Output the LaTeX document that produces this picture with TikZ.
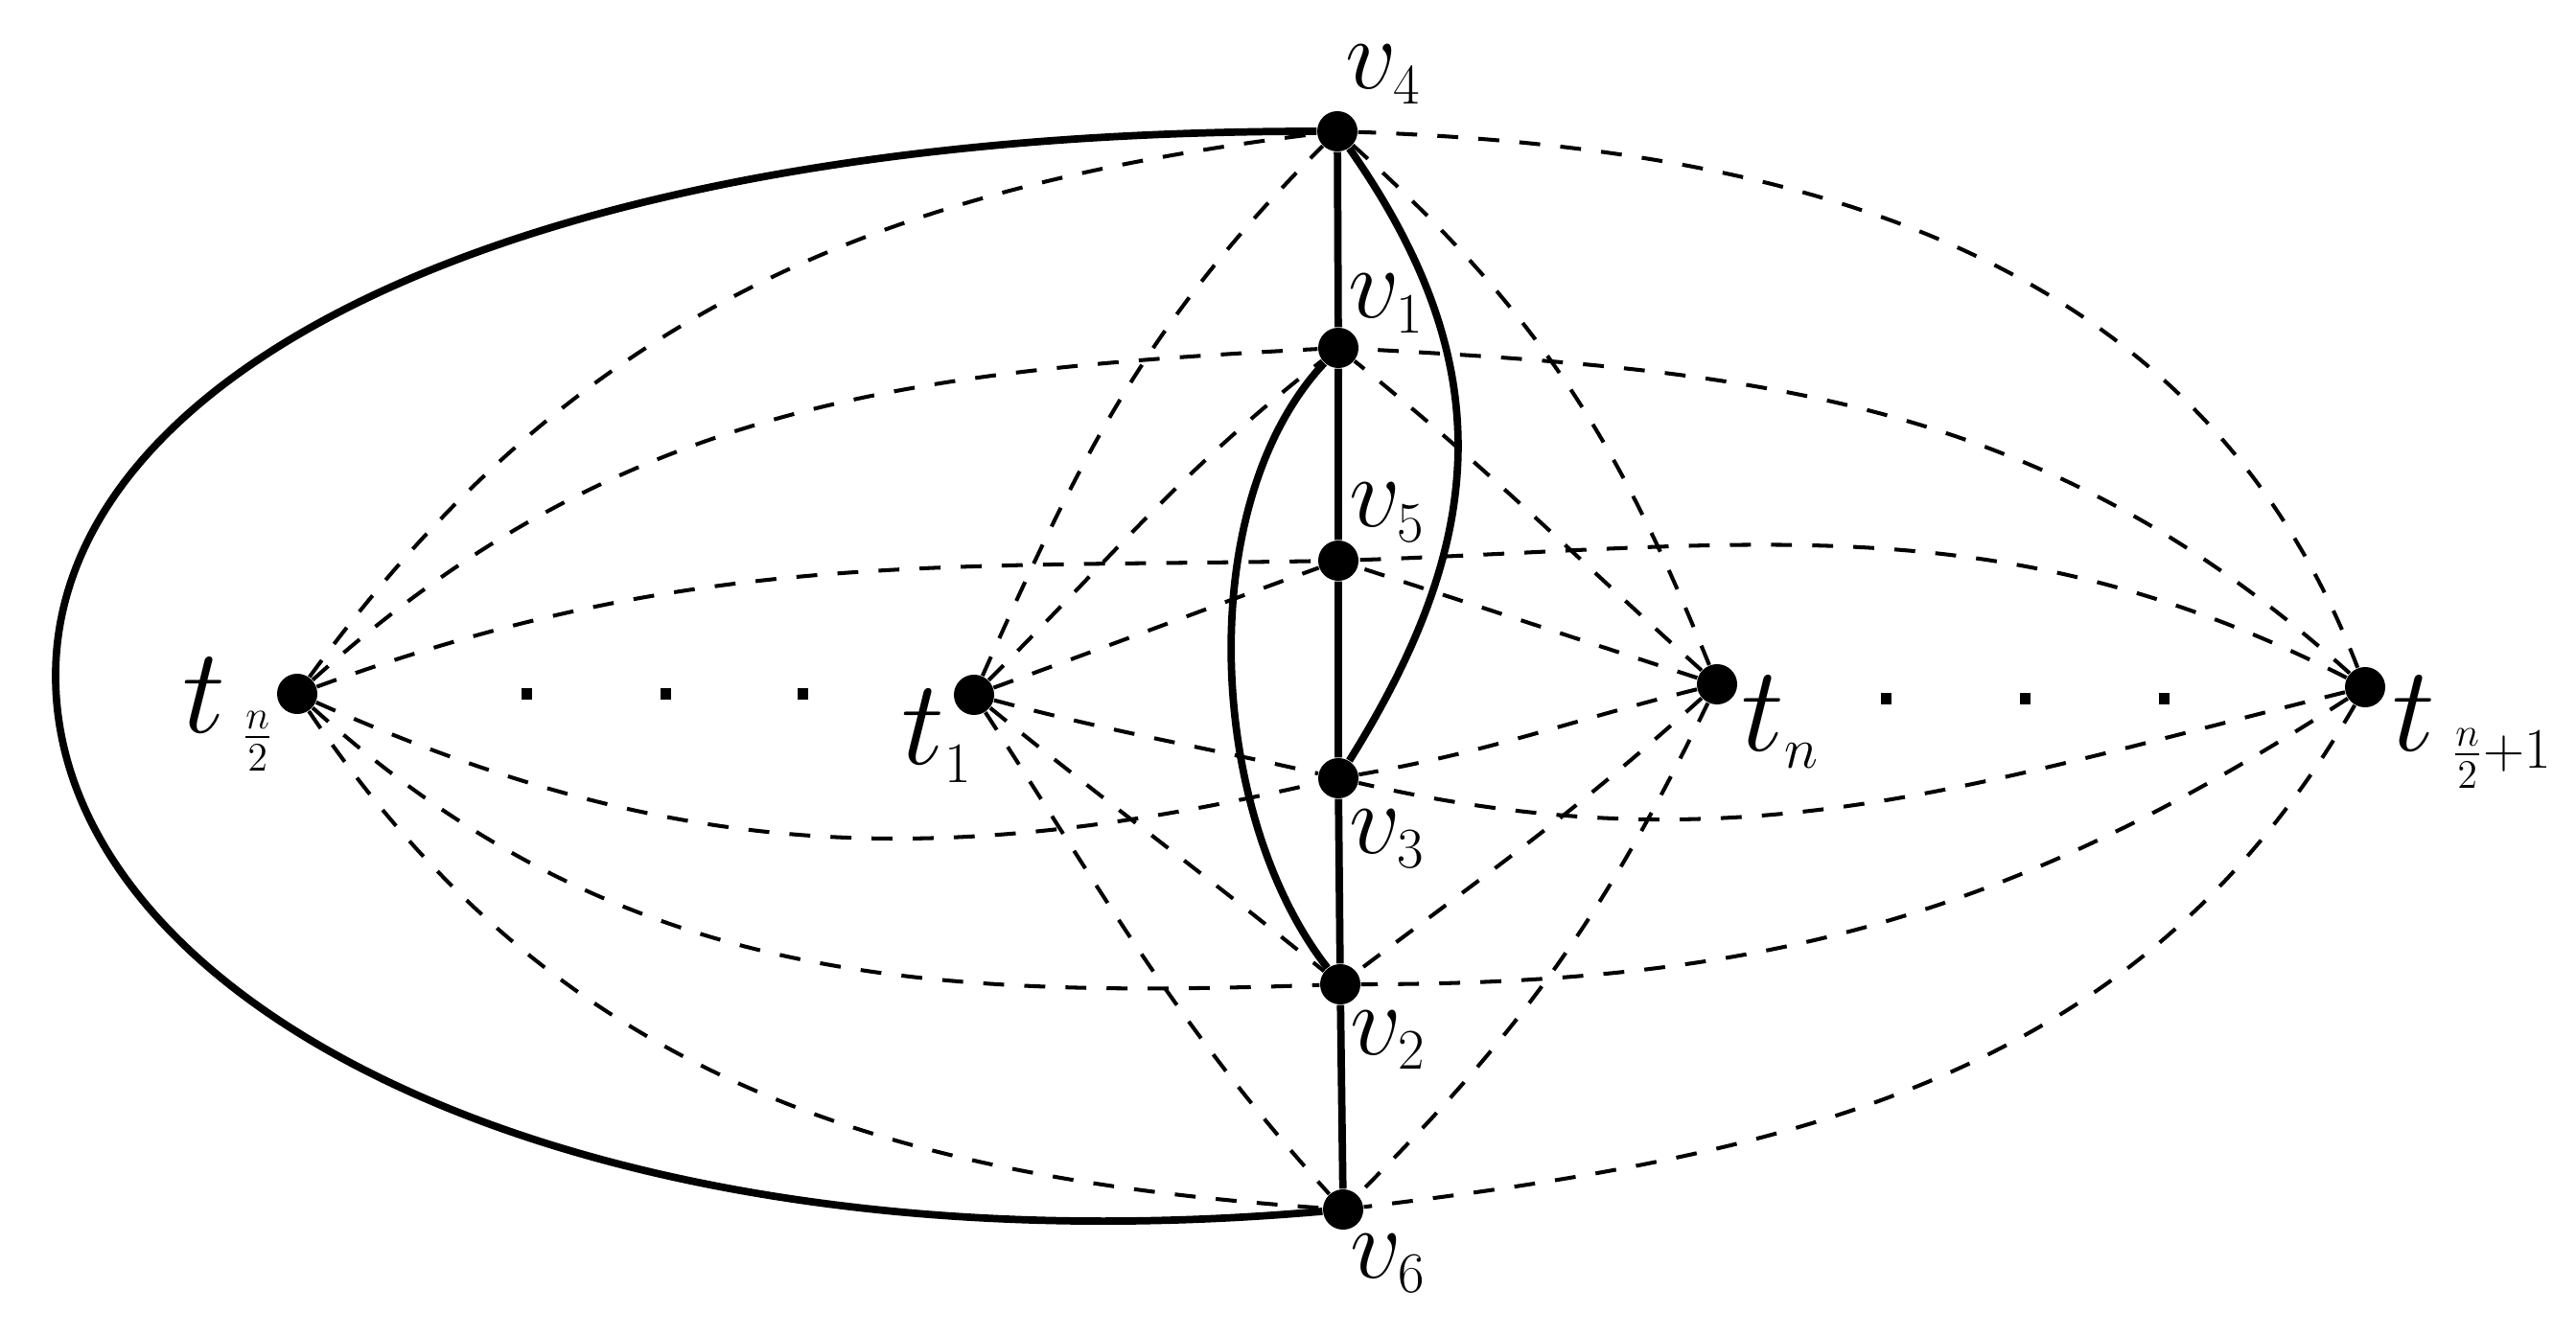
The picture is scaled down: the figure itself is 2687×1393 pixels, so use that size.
\documentclass[tikz,border=0pt]{standalone}
\usepackage{fix-cm}
\DeclareMathSizes{30}{30}{17}{12}
\DeclareMathSizes{36}{36}{17}{12}
\usetikzlibrary{calc}
\begin{document}
\begin{tikzpicture}[x=0.01cm,y=0.01cm,
  dot/.style={circle,fill=black,inner sep=0pt,minimum size=0.42cm},
  dashe/.style={line width=1.15pt,dash pattern=on 6.2pt off 6pt},
  thk/.style={line width=2.2pt},
  vlab/.style={anchor=base west,inner sep=0pt,font=\fontsize{30}{36}\selectfont},
  tlab/.style={anchor=base west,inner sep=0pt,font=\fontsize{36}{43}\selectfont},
  sq/.style={fill=black,inner sep=0pt,minimum size=0.11cm}]
\useasboundingbox (0,0) rectangle (2687,1393);

% vertices
\node[dot] (v4) at (1395,1256) {};
\node[dot] (v1) at (1396,1030) {};
\node[dot] (v5) at (1396,808) {};
\node[dot] (v3) at (1396,581) {};
\node[dot] (v2) at (1398,366) {};
\node[dot] (v6) at (1401,131) {};
\node[dot] (tA) at (310,669) {};
\node[dot] (t1) at (1016,668) {};
\node[dot] (tn) at (1791,679) {};
\node[dot] (tB) at (2467,676) {};
\coordinate (L) at (58,688);

% dots
\node[sq] (d1) at (549,669) {};
\node[sq] (d2) at (694,669) {};
\node[sq] (d3) at (837,669) {};
\node[sq] (d4) at (1967,664) {};
\node[sq] (d5) at (2112,664) {};
\node[sq] (d6) at (2257,664) {};

% thick edges
\draw[thk] (v4) -- (v1) -- (v5) -- (v3) -- (v2) -- (v6);
\draw[thk] (v4) .. controls (526,1256) and (58,1000) .. (L)
               .. controls (58,343) and (604,61) .. (v6);
\draw[thk] (v4) to[out=-55,in=58,looseness=1.1] (v3);
\draw[thk] (v1) to[out=227,in=128,looseness=0.82] (v2);

% dashed edges from t_{n/2}
\draw[dashe] (tA) to[out=54,in=187] (v4);
\draw[dashe] (tA) to[out=42,in=183] (v1);
\draw[dashe] (tA) to[out=20,in=181] (v5);
\draw[dashe] (tA) to[out=-24,in=193] (v3);
\draw[dashe] (tA) to[out=-42,in=182] (v2);
\draw[dashe] (tA) to[out=-56,in=176] (v6);
% from t_1
\draw[dashe] (t1) to[out=66,in=225] (v4);
\draw[dashe] (t1) to[out=45,in=218] (v1);
\draw[dashe] (t1) to[out=20,in=200] (v5);
\draw[dashe] (t1) to[out=-15,in=167] (v3);
\draw[dashe] (t1) to[out=-39,in=141] (v2);
\draw[dashe] (t1) to[out=-57,in=132] (v6);
% from t_n
\draw[dashe] (tn) to[out=112,in=-42] (v4);
\draw[dashe] (tn) to[out=138,in=-39] (v1);
\draw[dashe] (tn) to[out=162,in=-18] (v5);
\draw[dashe] (tn) to[out=194,in=10] (v3);
\draw[dashe] (tn) to[out=222,in=37] (v2);
\draw[dashe] (tn) to[out=244,in=45] (v6);
% from t_{n/2+1}
\draw[dashe] (tB) to[out=111,in=-2] (v4);
\draw[dashe] (tB) to[out=138,in=-3] (v1);
\draw[dashe] (tB) to[out=153,in=2] (v5);
\draw[dashe] (tB) to[out=194,in=-13] (v3);
\draw[dashe] (tB) to[out=213,in=0] (v2);
\draw[dashe] (tB) to[out=240,in=7] (v6);

% labels
\node[vlab] (lv4) at (1403,1300) {$v_4$};
\node[vlab] (lv1) at (1406,1061) {$v_1$};
\node[vlab] (lv5) at (1407,843) {$v_5$};
\node[vlab] (lv3) at (1407,503) {$v_3$};
\node[vlab] (lv2) at (1408,293) {$v_2$};
\node[vlab] (lv6) at (1408,60) {$v_6$};
\node[tlab] (ltA) at (190,628) {$t_{\;\frac{n}{2}}$};
\node[tlab] (lt1) at (940,595) {$t_1$};
\node[tlab] (ltn) at (1816,610) {$t_n$};
\node[tlab] (ltB) at (2495,610) {$t_{\;\frac{n}{2}+1}$};
\end{tikzpicture}
\end{document}
